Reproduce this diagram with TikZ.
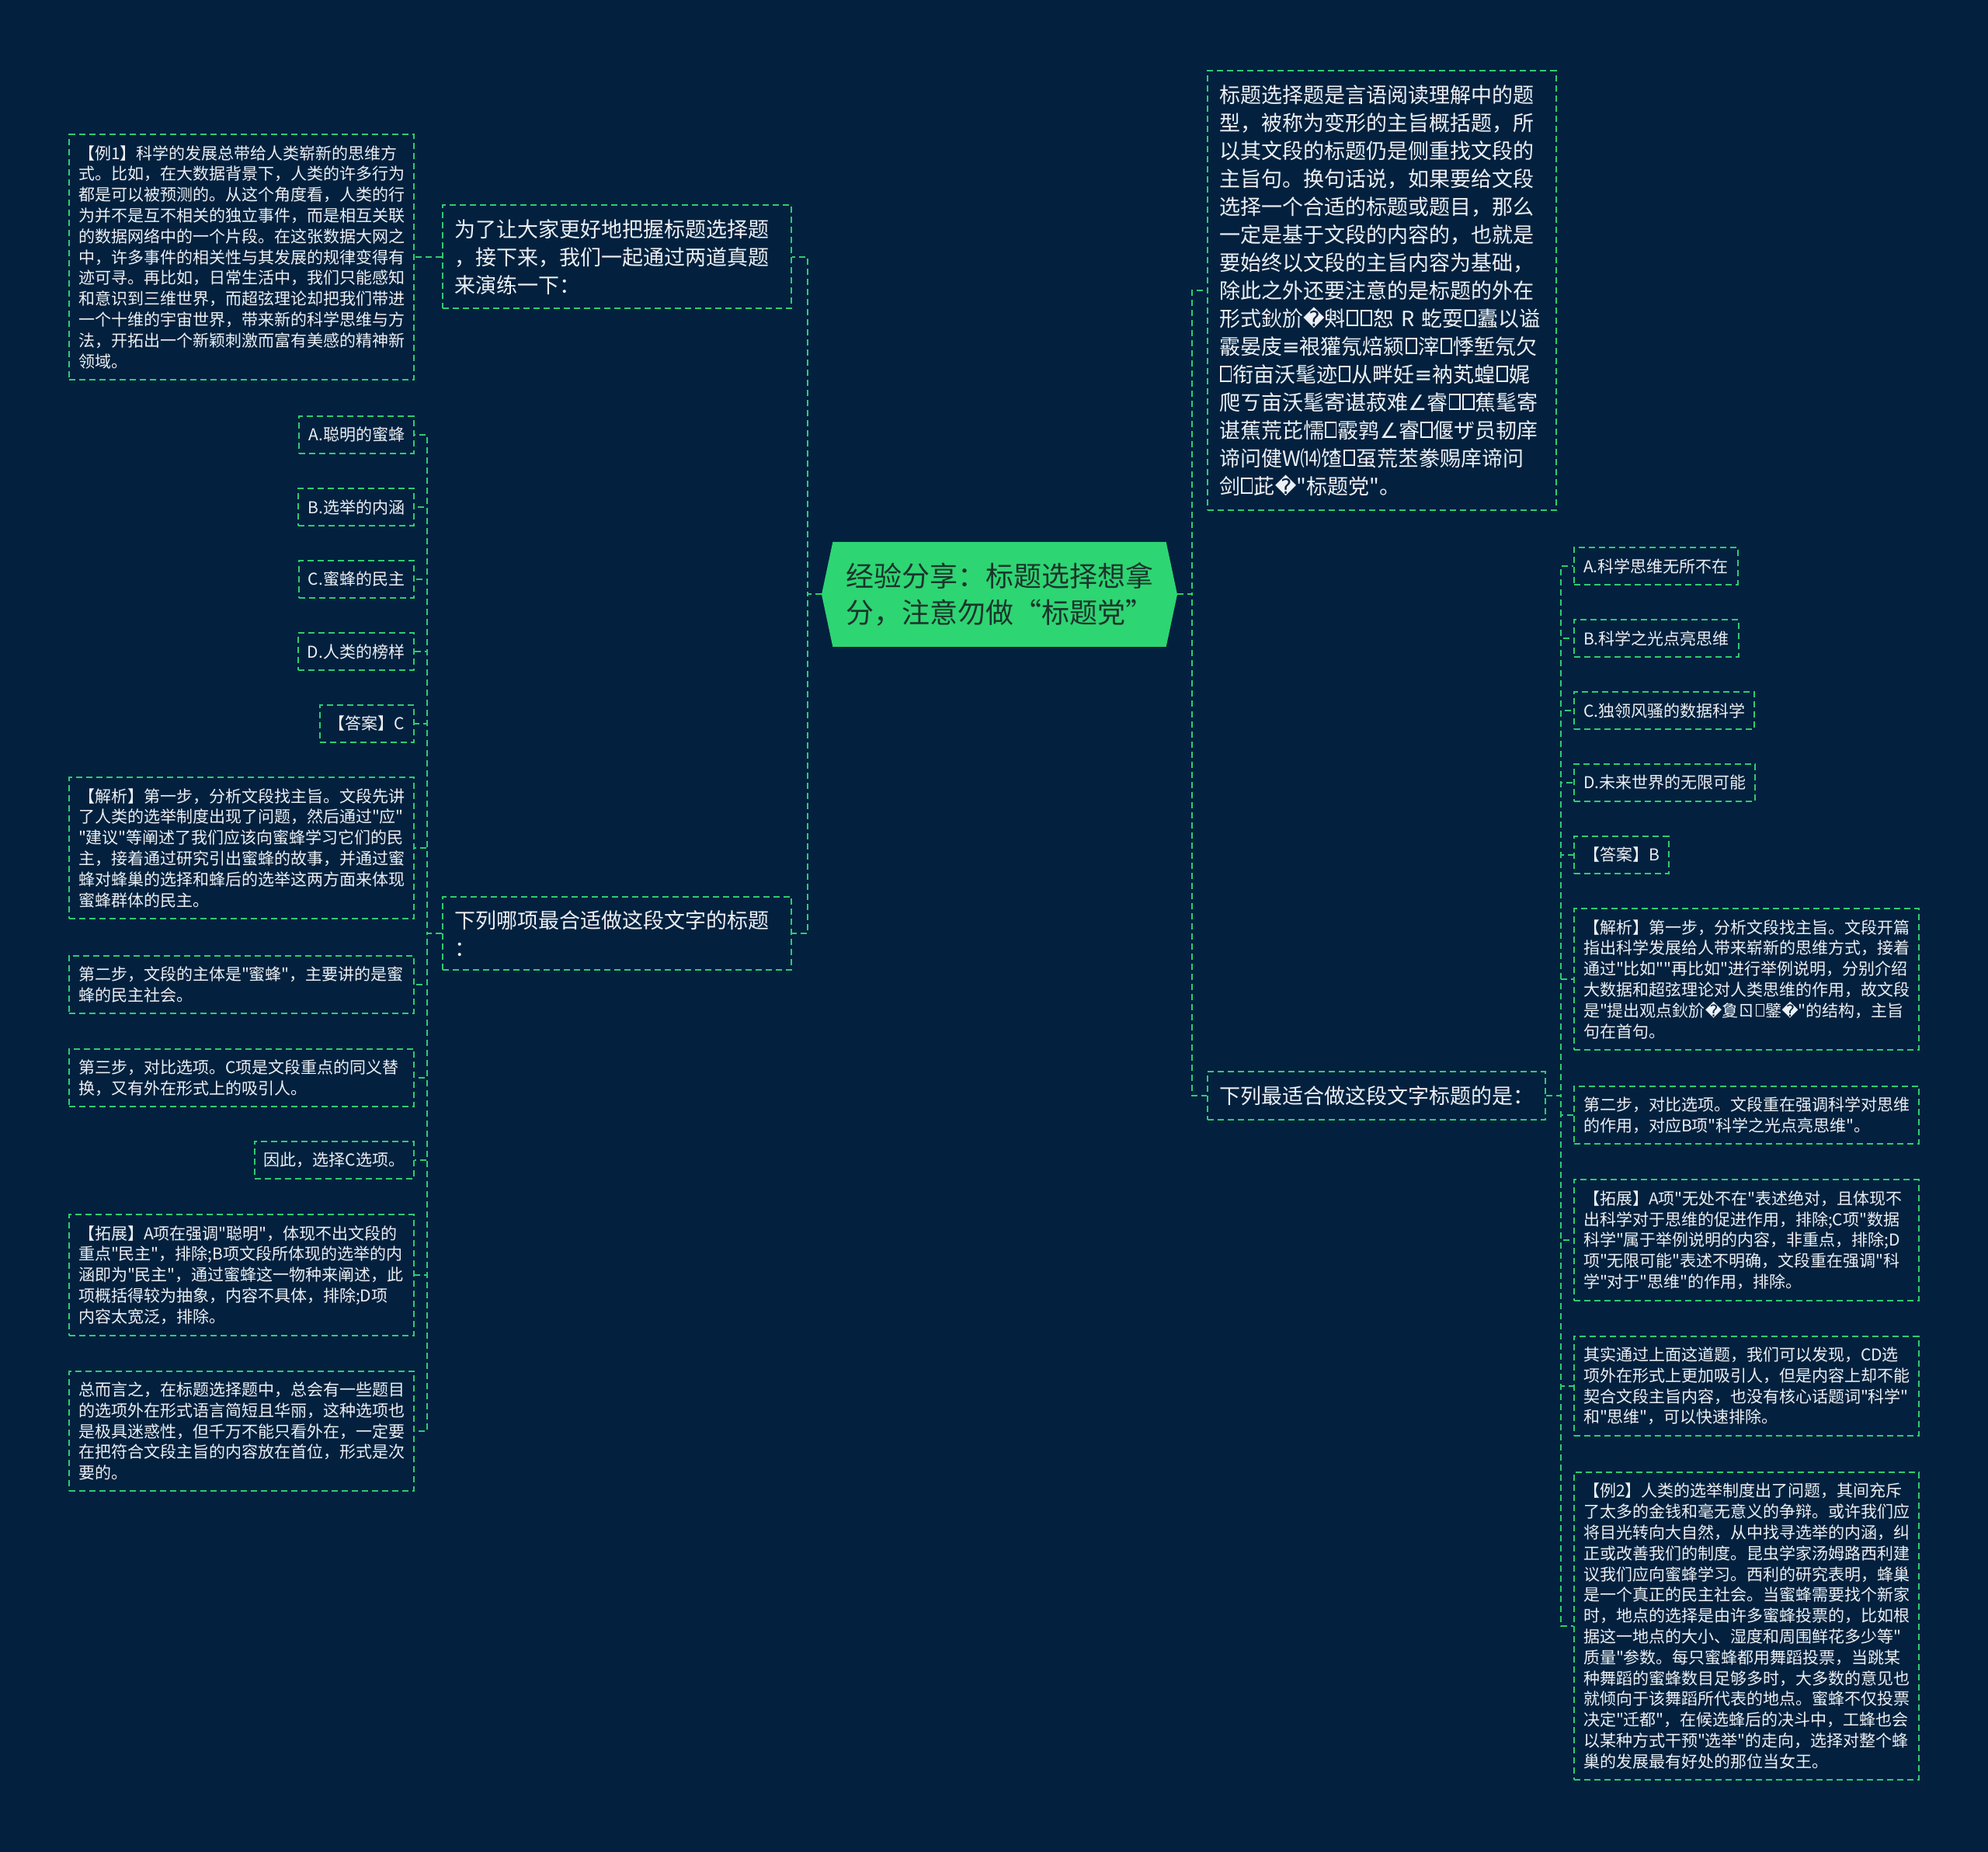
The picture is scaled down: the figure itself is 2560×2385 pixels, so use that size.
\documentclass[tikz,border=0pt]{standalone}
\usepackage{fontspec}
\setmainfont{Noto Sans CJK SC}[Ligatures=TeXOff]
\newfontfamily\symfont{DejaVu Sans}
\usetikzlibrary{shapes.symbols}
\definecolor{bgnavy}{RGB}{3,33,62}
\definecolor{linkgreen}{RGB}{46,204,113}
\definecolor{rootgreen}{RGB}{46,213,115}
\definecolor{roottext}{RGB}{28,52,44}
\definecolor{leaftext}{RGB}{236,240,244}
% garbled glyphs of the source text
\newcommand{\rep}{{\symfont\char"FFFD}}
\newcommand{\tofu}{\leavevmode\kern.05em\hbox{\vrule width .07em\vbox to .78em{\hrule height .07em width .42em\vfill\hrule height .07em}\vrule width .07em}\kern.05em}
\newcommand{\eqv}{{\symfont ≡}}
\newcommand{\angl}{{\symfont ∠}}
\begin{document}
\begin{tikzpicture}[x=0.5pt,y=-0.5pt,
	leafbox/.style={draw=linkgreen,line width=1pt,dash pattern=on 4pt off 2.5pt,text=leaftext,
		font=\fontsize{10.5}{13.4}\selectfont,inner xsep=6pt,inner ysep=7pt,align=left},
	widebox/.style={leafbox,text width=210pt},
	branchbox/.style={draw=linkgreen,line width=1pt,dash pattern=on 4pt off 2.5pt,text=leaftext,
		font=\fontsize{13.5}{18}\selectfont,inner xsep=7.5pt,inner ysep=9pt,align=left},
	branchwide/.style={branchbox,text width=209.5pt},
	link/.style={linkgreen,line width=1pt,dash pattern=on 4pt off 2.5pt}]
\useasboundingbox (0,0) rectangle (2560,2385);
\fill[bgnavy] (0,0) rectangle (2560,2385);

% centre
\node[signal,signal to=west and east,signal pointer angle=156,fill=rootgreen,text=roottext,
	font=\fontsize{18}{23.5}\selectfont,text width=198pt,align=left,inner xsep=8pt,inner ysep=12pt,
	minimum width=229pt,minimum height=67.5pt] (root) at (1287,765.5)
	{经验分享：标题选择想拿\\分，注意勿做“标题党”};

% left branches
\node[branchwide,anchor=east] (practice) at (1020,331) {为了让大家更好地把握标题选择题\\
	，接下来，我们一起通过两道真题\\
	来演练一下：};
\node[branchwide,anchor=east] (askl) at (1020,1202) {下列哪项最合适做这段文字的标题\\
	：};

\node[widebox,anchor=east] (eg1) at (534,331) {【例1】科学的发展总带给人类崭新的思维方\\
	式。比如，在大数据背景下，人类的许多行为\\
	都是可以被预测的。从这个角度看，人类的行\\
	为并不是互不相关的独立事件，而是相互关联\\
	的数据网络中的一个片段。在这张数据大网之\\
	中，许多事件的相关性与其发展的规律变得有\\
	迹可寻。再比如，日常生活中，我们只能感知\\
	和意识到三维世界，而超弦理论却把我们带进\\
	一个十维的宇宙世界，带来新的科学思维与方\\
	法，开拓出一个新颖刺激而富有美感的精神新\\
	领域。};

\node[leafbox,anchor=east] (la) at (534,560) {A.聪明的蜜蜂};
\node[leafbox,anchor=east] (lb) at (534,653) {B.选举的内涵};
\node[leafbox,anchor=east] (lc) at (534,746) {C.蜜蜂的民主};
\node[leafbox,anchor=east] (ld) at (534,839) {D.人类的榜样};
\node[leafbox,anchor=east] (lans) at (534,932) {【答案】C};
\node[widebox,anchor=east] (lana) at (534,1092) {【解析】第一步，分析文段找主旨。文段先讲\\
	了人类的选举制度出现了问题，然后通过"应"\\
	"建议"等阐述了我们应该向蜜蜂学习它们的民\\
	主，接着通过研究引出蜜蜂的故事，并通过蜜\\
	蜂对蜂巢的选择和蜂后的选举这两方面来体现\\
	蜜蜂群体的民主。};
\node[widebox,anchor=east] (lstep2) at (534,1268) {第二步，文段的主体是"蜜蜂"，主要讲的是蜜\\
	蜂的民主社会。};
\node[widebox,anchor=east] (lstep3) at (534,1388) {第三步，对比选项。C项是文段重点的同义替\\
	换，又有外在形式上的吸引人。};
\node[leafbox,anchor=east] (lsel) at (534,1494) {因此，选择C选项。};
\node[widebox,anchor=east] (lext) at (534,1642) {【拓展】A项在强调"聪明"，体现不出文段的\\
	重点"民主"，排除;B项文段所体现的选举的内\\
	涵即为"民主"，通过蜜蜂这一物种来阐述，此\\
	项概括得较为抽象，内容不具体，排除;D项\\
	内容太宽泛，排除。};
\node[widebox,anchor=east] (lsum) at (534,1843) {总而言之，在标题选择题中，总会有一些题目\\
	的选项外在形式语言简短且华丽，这种选项也\\
	是极具迷惑性，但千万不能只看外在，一定要\\
	在把符合文段主旨的内容放在首位，形式是次\\
	要的。};

% right branches
\node[branchwide,anchor=west] (intro) at (1554,374) {标题选择题是言语阅读理解中的题\\
	型，被称为变形的主旨概括题，所\\
	以其文段的标题仍是侧重找文段的\\
	主旨句。换句话说，如果要给文段\\
	选择一个合适的标题或题目，那么\\
	一定是基于文段的内容的，也就是\\
	要始终以文段的主旨内容为基础，\\
	除此之外还要注意的是标题的外在\\
	形式鈥斺\rep{}斞\tofu\tofu{}恕~R~虼耍\tofu{}蠹以谥\\
	霰晏庋\eqv{}裉獾氖焙颍\tofu{}滓\tofu{}悸堑氖欠\\
	\tofu{}衔亩沃髦迹\tofu{}从畔妊\eqv{}衲芄蝗\tofu{}娓\\
	爬ㄎ亩沃髦寄谌菽难\angl{}睿\tofu\tofu{}蕉髦寄\\
	谌蕉荒芘懦\tofu{}霰鹑\angl{}睿\tofu{}偃ザ员韧庠\\
	谛问健W⒁馇\tofu{}虿荒苤豢赐庠谛问\\
	剑\tofu{}茈\rep"标题党"。};
\node[branchbox,anchor=west] (askr) at (1554,1411) {下列最适合做这段文字标题的是：};

\node[leafbox,anchor=west] (ra) at (2026,729) {A.科学思维无所不在};
\node[leafbox,anchor=west] (rb) at (2026,822) {B.科学之光点亮思维};
\node[leafbox,anchor=west] (rc) at (2026,915) {C.独领风骚的数据科学};
\node[leafbox,anchor=west] (rd) at (2026,1008) {D.未来世界的无限可能};
\node[leafbox,anchor=west] (rans) at (2026,1101) {【答案】B};
\node[widebox,anchor=west] (rana) at (2026,1261) {【解析】第一步，分析文段找主旨。文段开篇\\
	指出科学发展给人带来崭新的思维方式，接着\\
	通过"比如""再比如"进行举例说明，分别介绍\\
	大数据和超弦理论对人类思维的作用，故文段\\
	是"提出观点鈥斺\rep{}夐ㄖ\tofu{}鐾\rep"的结构，主旨\\
	句在首句。};
\node[widebox,anchor=west] (rstep2) at (2026,1436) {第二步，对比选项。文段重在强调科学对思维\\
	的作用，对应B项"科学之光点亮思维"。};
\node[widebox,anchor=west] (rext) at (2026,1597) {【拓展】A项"无处不在"表述绝对，且体现不\\
	出科学对于思维的促进作用，排除;C项"数据\\
	科学"属于举例说明的内容，非重点，排除;D\\
	项"无限可能"表述不明确，文段重在强调"科\\
	学"对于"思维"的作用，排除。};
\node[widebox,anchor=west] (rnote) at (2026,1785) {其实通过上面这道题，我们可以发现，CD选\\
	项外在形式上更加吸引人，但是内容上却不能\\
	契合文段主旨内容，也没有核心话题词"科学"\\
	和"思维"，可以快速排除。};
\node[widebox,anchor=west] (eg2) at (2026,2094) {【例2】人类的选举制度出了问题，其间充斥\\
	了太多的金钱和毫无意义的争辩。或许我们应\\
	将目光转向大自然，从中找寻选举的内涵，纠\\
	正或改善我们的制度。昆虫学家汤姆路西利建\\
	议我们应向蜜蜂学习。西利的研究表明，蜂巢\\
	是一个真正的民主社会。当蜜蜂需要找个新家\\
	时，地点的选择是由许多蜜蜂投票的，比如根\\
	据这一地点的大小、湿度和周围鲜花多少等"\\
	质量"参数。每只蜜蜂都用舞蹈投票，当跳某\\
	种舞蹈的蜜蜂数目足够多时，大多数的意见也\\
	就倾向于该舞蹈所代表的地点。蜜蜂不仅投票\\
	决定"迁都"，在候选蜂后的决斗中，工蜂也会\\
	以某种方式干预"选举"的走向，选择对整个蜂\\
	巢的发展最有好处的那位当女王。};

% connectors
\draw[link] (root.west) -- ++(-18,0) |- (practice.east);
\draw[link] (root.west) -- ++(-18,0) |- (askl.east);
\draw[link] (root.east) -- ++(19,0) |- (intro.west);
\draw[link] (root.east) -- ++(19,0) |- (askr.west);
\draw[link] (practice.west) -- ++(-19,0) |- (eg1.east);
\foreach \n in {la,lb,lc,ld,lans,lana,lstep2,lstep3,lsel,lext,lsum}
	\draw[link] (askl.west) -- ++(-19,0) |- (\n.east);
\foreach \n in {ra,rb,rc,rd,rans,rana,rstep2,rext,rnote,eg2}
	\draw[link] (askr.east) -- ++(19,0) |- (\n.west);
\end{tikzpicture}
\end{document}
